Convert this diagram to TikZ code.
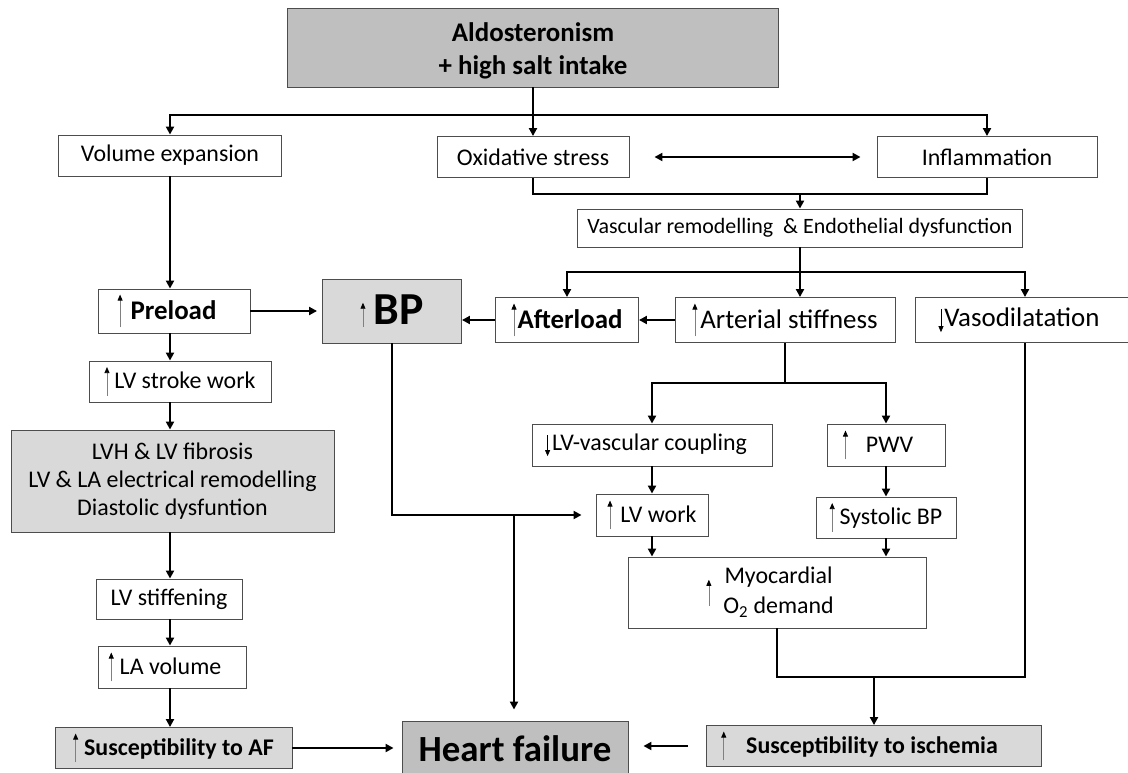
\documentclass[tikz,border=0pt]{standalone}
\usepackage{fontspec}
\setmainfont{Carlito}
\usetikzlibrary{arrows.meta}
\definecolor{dkfill}{HTML}{BFBFBF}
\definecolor{ltfill}{HTML}{D9D9D9}
\definecolor{boxline}{HTML}{4D4D4D}
\newcommand\uparw[2]{\tikz[baseline=0pt]\draw[line width=0.7pt, draw=gray, -{Triangle[length=6pt,width=5pt,color=black,fill=black]}] (0pt,#1) -- (0pt,#2);}
\newcommand\dnarw[2]{\tikz[baseline=0pt]\draw[line width=0.7pt, draw=black, -{Triangle[length=6pt,width=5pt]}] (0pt,#1) -- (0pt,#2);}
\begin{document}
\begin{tikzpicture}[x=1bp,y=-1bp,
  box/.style={draw=boxline, line width=0.9bp, fill=white, inner sep=0pt, align=center, font=\fontsize{24}{28}\selectfont},
  bbig/.style={font=\fontsize{27}{33}\selectfont\bfseries},
  rbig/.style={font=\fontsize{27}{33}\selectfont},
  bmid/.style={font=\fontsize{24}{28}\selectfont\bfseries},
  conn/.style={draw=black, line width=2bp},
  arr/.style={conn, -{Triangle[length=8bp,width=8bp]}},
  darr/.style={conn, {Triangle[length=8bp,width=8bp]}-{Triangle[length=8bp,width=8bp]}}]
\useasboundingbox (0,0) rectangle (1128,773);

% nodes
\node[box, bbig, fill=dkfill, minimum width=491bp, minimum height=79bp] (top) at (533,47.5) {\rule{0pt}{26pt}Aldosteronism\\+ high salt intake};
\node[box, minimum width=223bp, minimum height=41bp] (vol) at (170,155.5) {Volume expansion};
\node[box, minimum width=192bp, minimum height=41bp] (ox) at (533,157) {Oxidative stress};
\node[box, minimum width=220bp, minimum height=41bp] (inf) at (987,157) {Inflammation};
\node[box, font=\fontsize{22}{26}\selectfont, minimum width=445bp, minimum height=38bp] (vasc) at (800,228) {Vascular remodelling\ \ \& Endothelial dysfunction};

\node[box, bbig, minimum width=152bp, minimum height=44bp] (pre) at (174,311) {\uparw{-8pt}{25pt}\hspace{8pt}Preload\hspace{14pt}};
\node[box, fill=ltfill, font=\fontsize{46}{52}\selectfont\bfseries, minimum width=139bp, minimum height=64bp] (bp) at (392,311) {\uparw{-2pt}{22pt}\hspace{8pt}BP};
\node[box, bbig, minimum width=143bp, minimum height=45bp] (aft) at (567,320) {\uparw{-8pt}{25pt}\hspace{1pt}Afterload};
\node[box, rbig, minimum width=220bp, minimum height=45bp] (art) at (785,320) {\uparw{-8pt}{25pt}\hspace{3pt}Arterial stiffness};
\node[box, rbig, minimum width=220bp, minimum height=45bp] (vaso) at (1025,320) {\dnarw{17pt}{-6pt}\hspace{1pt}Vasodilatation\hspace{12pt}};

\node[box, minimum width=182bp, minimum height=41bp] (lvsw) at (180,381.5) {\uparw{-7pt}{22pt}\hspace{5pt}LV stroke work};
\node[box, fill=ltfill, minimum width=323bp, minimum height=102bp] (lvh) at (172.5,481) {LVH \& LV fibrosis\\LV \& LA electrical remodelling\\Diastolic dysfuntion};
\node[box, minimum width=146bp, minimum height=40bp] (lvst) at (169,599) {LV stiffening};
\node[box, minimum width=148bp, minimum height=42bp] (lav) at (172,667) {\uparw{-7pt}{22pt}\hspace{6pt}LA volume\hspace{14pt}};
\node[box, bmid, fill=ltfill, minimum width=237bp, minimum height=41bp] (af) at (173.5,748) {\uparw{-7pt}{22pt}\hspace{6pt}Susceptibility to AF};

\node[box, minimum width=240bp, minimum height=42bp] (lvvc) at (652,445) {\dnarw{15pt}{-6pt}\hspace{2pt}LV-vascular coupling\hspace{12pt}};
\node[box, minimum width=118bp, minimum height=42bp] (pwv) at (886,445) {\uparw{-7pt}{22pt}\hspace{18pt}PWV\hspace{16pt}};
\node[box, minimum width=112bp, minimum height=42bp] (lvw) at (652,515) {\uparw{-7pt}{22pt}\hspace{8pt}LV work};
\node[box, minimum width=140bp, minimum height=41bp] (sbp) at (886,517.5) {\uparw{-7pt}{22pt}\hspace{5pt}Systolic BP};
\node[box, font=\fontsize{24}{30}\selectfont, minimum width=298bp, minimum height=71bp] (myo) at (777,592.5) {\uparw{-7pt}{19pt}\hspace{12pt}\begin{tabular}{@{}c@{}}Myocardial\\O\textsubscript{2} demand\end{tabular}\hspace{14pt}};

\node[box, fill=dkfill, font=\fontsize{37}{44}\selectfont\bfseries, minimum width=226bp, minimum height=56bp] (hf) at (515,749) {Heart failure};
\node[box, bmid, fill=ltfill, minimum width=335bp, minimum height=41bp] (isc) at (874,746) {\uparw{-7pt}{22pt}\hspace{20pt}Susceptibility to ischemia\hspace{29pt}};

% connectors
\coordinate (j1) at (533,115);
\draw[arr] (top.south) -- (ox.north);
\draw[arr] (j1) -| (vol.north);
\draw[arr] (j1) -| (inf.north);
\draw[darr, shorten <=25bp, shorten >=16bp] (ox.east) -- (inf.west);
\coordinate (j2) at (800,194);
\draw[conn] (ox.south) |- (j2) -| (inf.south);
\draw[arr] (j2) -- (vasc.north);
\coordinate (j3) at (800,272);
\draw[conn] (vasc.south) -- (j3);
\draw[arr] (j3) -- (j3 |- art.north);
\draw[arr] (j3) -| (aft.north);
\draw[arr] (j3) -| (vaso.north);
\draw[arr] (art.west) -- (aft.east);
\draw[arr] (aft.west) -- (aft.west -| bp.east);
\draw[arr, shorten >=5bp] (pre.east) -- (pre.east -| bp.west);

\coordinate (cl) at (170,0);
\draw[arr] (vol.south) -- (vol.south |- pre.north);
\draw[arr] (cl |- pre.south) -- (cl |- lvsw.north);
\draw[arr] (cl |- lvsw.south) -- (cl |- lvh.north);
\draw[arr] (cl |- lvh.south) -- (cl |- lvst.north);
\draw[arr] (cl |- lvst.south) -- (cl |- lav.north);
\draw[arr] (cl |- lav.south) -- (cl |- af.north);
\draw[arr, shorten >=8bp] (af.east) -- (af.east -| hf.west);

\coordinate (j4) at (785,383);
\draw[conn] (art.south) -- (j4);
\draw[arr] (j4) -| (lvvc.north);
\draw[arr] (j4) -| (pwv.north);
\draw[arr] (lvvc.south) -- (lvw.north);
\draw[arr] (lvw.south) -- (lvw.south |- myo.north);
\draw[arr] (pwv.south) -- (sbp.north);
\draw[arr] (sbp.south) -- (sbp.south |- myo.north);

\draw[arr, shorten >=14bp] (bp.south) |- (lvw.west);
\coordinate (j5) at (514,515);
\draw[arr, shorten >=11bp] (j5) -- (j5 |- hf.north);

\coordinate (j6) at (874,677);
\draw[conn] (myo.south) |- (j6) -| (vaso.south);
\draw[arr] (j6) -- (isc.north);
\draw[arr, shorten <=18bp, shorten >=15bp] (isc.west) -- (isc.west -| hf.east);
\end{tikzpicture}
\end{document}
